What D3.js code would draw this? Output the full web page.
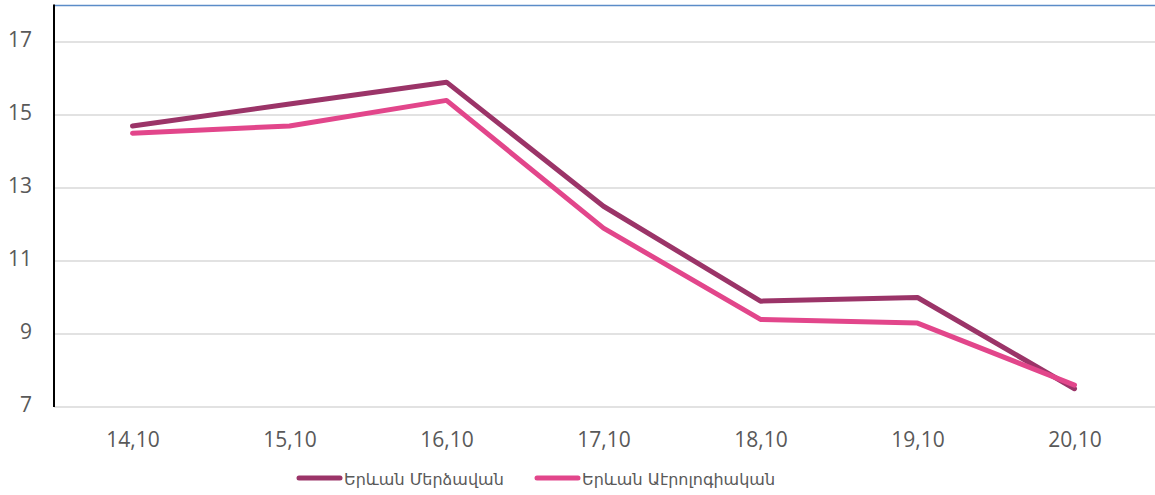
<!DOCTYPE html>
<html><head><meta charset="utf-8">
<script src="https://cdn.jsdelivr.net/npm/d3@7"></script>
<style>body{margin:0;background:#fff}svg{display:block}</style>
</head><body>
<script>
const categories = ["14,10","15,10","16,10","17,10","18,10","19,10","20,10"];
const seriesNames = ["Երևան Մերձավան","Երևան Աէրոլոգիական"];
const merdzavan = [14.7,15.3,15.9,12.5,9.9,10.0,7.5];
const aerologic = [14.5,14.7,15.4,11.9,9.4,9.3,7.6];
const yTicks = [7,9,11,13,15,17];
const colors = ["#9B3468","#E2468B"];

const W=1155,H=495;
const svg=d3.select("body").append("svg").attr("width",W).attr("height",H);
const x=d3.scalePoint().domain(categories).range([54+78.5,1153-78.5]);
const y=d3.scaleLinear().domain([7,18]).range([407,5.5]);

const fontAxis='"Open Sans","DejaVu Sans",sans-serif';
// gridlines
svg.append("g").selectAll("line").data(yTicks).join("line")
  .attr("x1",54).attr("x2",1155).attr("y1",d=>y(d)).attr("y2",d=>y(d))
  .attr("stroke","#D9D9D9").attr("stroke-width",1.5);
// top border
svg.append("line").attr("x1",54).attr("x2",1155).attr("y1",y(18)).attr("y2",y(18))
  .attr("stroke","#5B8CC8").attr("stroke-width",1.5);
// y axis line
svg.append("line").attr("x1",54).attr("x2",54).attr("y1",y(18)-1).attr("y2",y(7))
  .attr("stroke","#000").attr("stroke-width",2);

// y tick labels
const yAxis=d3.axisLeft(y).tickValues(yTicks).tickSize(0).tickPadding(22);
const gy=svg.append("g").attr("transform","translate(54,0)").call(yAxis);
gy.select(".domain").remove();
gy.selectAll("text").attr("font-family",fontAxis).attr("font-size",21).attr("fill","#595959").attr("dy","0.22em");

// x tick labels
const xAxis=d3.axisBottom(x).tickSize(0).tickPadding(25);
const gx=svg.append("g").attr("transform","translate(0,407)").call(xAxis);
gx.select(".domain").remove();
gx.selectAll("text").attr("font-family",fontAxis).attr("font-size",21).attr("fill","#595959");

const line=d3.line().x((d,i)=>x(categories[i])).y(d=>y(d));
[merdzavan,aerologic].forEach((s,k)=>{
  svg.append("path").attr("d",line(s)).attr("fill","none")
    .attr("stroke",colors[k]).attr("stroke-width",5)
    .attr("stroke-linejoin","round").attr("stroke-linecap","round");
});

// legend
const legX=[297,535];
seriesNames.forEach((n,k)=>{
  const g=svg.append("g").attr("transform",`translate(${legX[k]},478)`);
  g.append("line").attr("x1",2).attr("x2",43).attr("y1",0).attr("y2",0)
    .attr("stroke",colors[k]).attr("stroke-width",5).attr("stroke-linecap","round");
  g.append("text").attr("x",47).attr("y",7).text(n)
    .attr("font-family",'"DejaVu Sans",sans-serif').attr("font-size",16).attr("fill","#595959");
});
</script>
</body></html>
